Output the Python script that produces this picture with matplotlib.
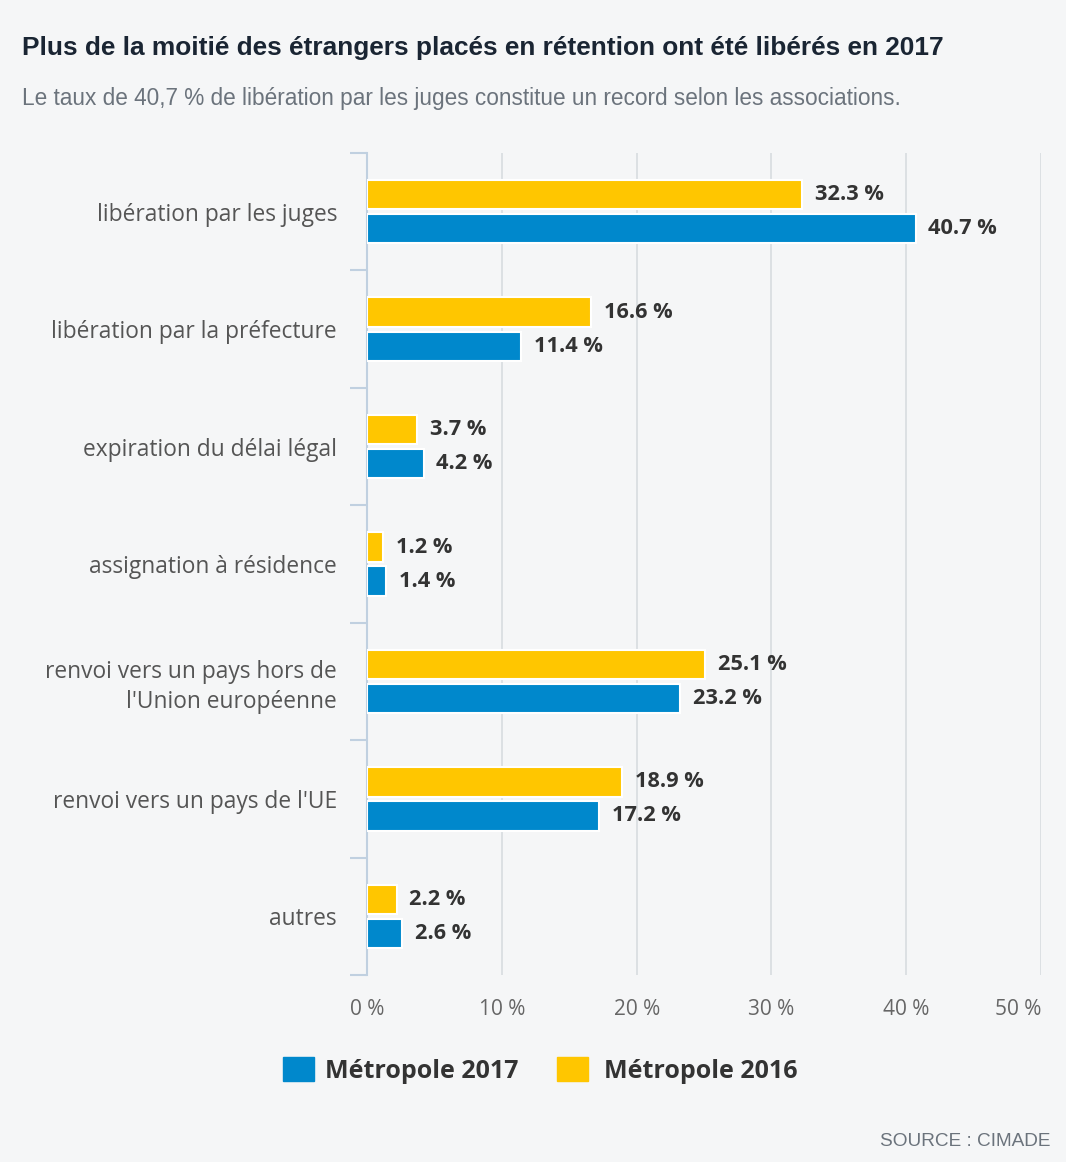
import matplotlib
matplotlib.use("Agg")
import matplotlib.pyplot as plt
from matplotlib.patches import Rectangle
import numpy as np

categories = [
    "libération par les juges",
    "libération par la préfecture",
    "expiration du délai légal",
    "assignation à résidence",
    "renvoi vers un pays hors de\nl'Union européenne",
    "renvoi vers un pays de l'UE",
    "autres",
]
values_2016 = [32.3, 16.6, 3.7, 1.2, 25.1, 18.9, 2.2]
values_2017 = [40.7, 11.4, 4.2, 1.4, 23.2, 17.2, 2.6]
x_ticks = [0, 10, 20, 30, 40, 50]

BG = "#f5f6f7"
YELLOW = "#ffc600"
BLUE = "#0088cc"
LABEL_FONT = ["Open Sans", "DejaVu Sans"]
HELV = ["Liberation Sans", "DejaVu Sans"]

fig = plt.figure(figsize=(10.66, 11.62), dpi=100, facecolor=BG)
ax = fig.add_axes([0.3443, 0.1609, 0.6323, 0.7074])
ax.set_facecolor(BG)

y = np.arange(len(categories))
off = 0.145
h = 0.25
ax.barh(y - off, values_2016, height=h, color=YELLOW, edgecolor="white", linewidth=1.5, zorder=3)
ax.barh(y + off, values_2017, height=h, color=BLUE, edgecolor="white", linewidth=1.5, zorder=3)

for yi, v in zip(y - off, values_2016):
    ax.text(v + 0.95, yi, f"{v:.1f} %", va="center", ha="left", fontsize=15.7,
            fontweight="bold", color="#333333", family=LABEL_FONT, zorder=4)
for yi, v in zip(y + off, values_2017):
    ax.text(v + 0.95, yi, f"{v:.1f} %", va="center", ha="left", fontsize=15.7,
            fontweight="bold", color="#333333", family=LABEL_FONT, zorder=4)

ax.set_xlim(0, 50)
ax.set_ylim(len(categories) - 0.5, -0.5)

ax.set_xticks(x_ticks)
ax.set_xticklabels([f"{t} %" for t in x_ticks], family=LABEL_FONT, fontsize=15, color="#666666")
ax.get_xticklabels()[-1].set_horizontalalignment("right")
ax.tick_params(axis="x", length=0, pad=17.5)
for t in x_ticks[1:]:
    ax.axvline(t, color="#d8dce0", linewidth=1.2, zorder=1)

# category labels at centres, ticks at boundaries
ax.set_yticks(y)
ax.set_yticklabels(categories, family=LABEL_FONT, fontsize=16.4, color="#555555", ha="right",
                   linespacing=1.3)
ax.tick_params(axis="y", length=0, pad=21.6)
ax.set_yticks(np.arange(len(categories) + 1) - 0.5, minor=True)
ax.tick_params(axis="y", which="minor", length=12, width=1.5, color="#c0d0e0")

for s in ["top", "right", "bottom"]:
    ax.spines[s].set_visible(False)
ax.spines["left"].set_color("#c0d0e0")
ax.spines["left"].set_linewidth(1.5)

fig.text(22 / 1066, 1 - 48 / 1162, "Plus de la moitié des étrangers placés en rétention ont été libérés en 2017",
         family=HELV, fontweight="bold", fontsize=18.9, color="#1a2533", va="center", ha="left")
fig.text(22 / 1066, 1 - 99 / 1162, "Le taux de 40,7 % de libération par les juges constitue un record selon les associations.",
         family=HELV, fontsize=16.3, color="#6b737c", va="center", ha="left")

# legend
ly = 1 - 1069 / 1162
for x0, xt, col, lab in [(283, 325, BLUE, "Métropole 2017"), (557, 604, YELLOW, "Métropole 2016")]:
    fig.patches.append(Rectangle((x0 / 1066, ly - 12 / 1162), 31 / 1066, 24 / 1162,
                                 transform=fig.transFigure, color=col))
    fig.text(xt / 1066, ly - 3 / 1162, lab, family=LABEL_FONT, fontweight="bold", fontsize=18,
             color="#333333", va="center", ha="left")

fig.text(1050 / 1066, 1 - 1142 / 1162, "SOURCE : CIMADE", family=HELV,
         fontsize=13.7, color="#6b737c", ha="right", va="center")

fig.savefig("out.png", dpi=100, facecolor=BG)
